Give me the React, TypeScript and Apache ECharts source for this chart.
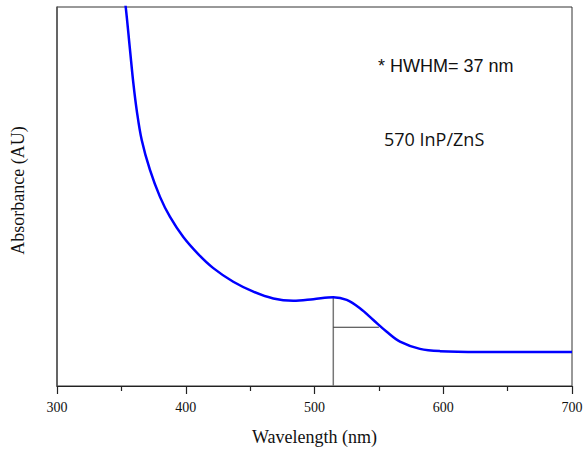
import React, { useEffect, useRef } from "react";
import * as echarts from "echarts";

const wavelengths = [352, 353.4, 356.7, 359.3, 361.9, 365.8, 372.2, 380.0, 387.8, 398.1, 409.7, 421.4, 436.9, 452.5, 468.0, 483.5, 499.1, 514.6, 525.0, 535.3, 545.7, 556.1, 566.4, 581.9, 597.5, 628.5, 660, 700];
const absorbance = [103, 99.9, 88.7, 79.9, 72.8, 64.9, 57.0, 49.9, 44.6, 39.3, 34.8, 31.1, 27.5, 24.9, 23.1, 22.5, 22.9, 23.4, 22.7, 20.5, 17.4, 14.3, 11.7, 9.8, 9.2, 9.0, 9.0, 9.0];
const peakMarker = [[514.6, 0], [514.6, 23.4]];
const hwhmMarker = [[514.6, 15.5], [550, 15.5]];
const xTicks = [300, 400, 500, 600, 700];

export default function App() {
  const ref = useRef<HTMLDivElement>(null);
  useEffect(() => {
    if (!ref.current) return;
    const chart = echarts.init(ref.current, null, { renderer: "svg" });
    chart.setOption({
      animation: false,
      backgroundColor: "#ffffff",
      grid: {
        left: 57, right: 14, top: 7, bottom: 66,
        show: true, borderColor: "#333", borderWidth: 1,
      },
      xAxis: {
        type: "value",
        min: xTicks[0],
        max: xTicks[xTicks.length - 1],
        interval: 100,
        name: "Wavelength (nm)",
        nameLocation: "middle",
        nameGap: 42,
        nameTextStyle: { fontFamily: "Liberation Serif", fontSize: 18, color: "#111" },
        axisLine: { show: true, onZero: false, lineStyle: { color: "#222", width: 1 } },
        axisTick: { show: true, inside: false, length: 8, lineStyle: { color: "#222", width: 1.2 } },
        minorTick: { show: true, splitNumber: 2, length: 5, lineStyle: { color: "#222", width: 1.2 } },
        splitLine: { show: false },
        minorSplitLine: { show: false },
        axisLabel: { fontFamily: "Liberation Serif", fontSize: 14, color: "#111", margin: 14 },
      },
      yAxis: {
        type: "value",
        min: 0,
        max: 100,
        name: "Absorbance (AU)",
        nameLocation: "middle",
        nameGap: 30,
        nameTextStyle: { fontFamily: "Liberation Serif", fontSize: 18, color: "#111", padding: [0, 0, 0, 12] },
        axisLine: { show: true, onZero: false, lineStyle: { color: "#555", width: 1.5 } },
        axisTick: { show: false },
        axisLabel: { show: false },
        splitLine: { show: false },
      },
      graphic: [
        {
          type: "text", left: 378, top: 57,
          style: { text: "* HWHM= 37 nm", fontFamily: "Liberation Sans", fontSize: 18, fill: "#111" },
        },
        {
          type: "text", left: 384, top: 130,
          style: { text: "570 InP/ZnS", fontFamily: "Open Sans", fontSize: 18, fill: "#111" },
        },
      ],
      series: [
        {
          type: "line",
          data: wavelengths.map((w, i) => [w, absorbance[i]]),
          smooth: 0.35,
          showSymbol: false,
          clip: true,
          lineStyle: { color: "#0000ff", width: 2.5 },
          z: 3,
        },
        {
          type: "line",
          data: peakMarker,
          showSymbol: false,
          lineStyle: { color: "#777", width: 1.5 },
          z: 2,
        },
        {
          type: "line",
          data: hwhmMarker,
          showSymbol: false,
          lineStyle: { color: "#333", width: 1 },
          z: 2,
        },
      ],
    });
    return () => chart.dispose();
  }, []);
  return <div ref={ref} style={{ position: "absolute", left: 0, top: 0, width: 586, height: 452 }} />;
}
